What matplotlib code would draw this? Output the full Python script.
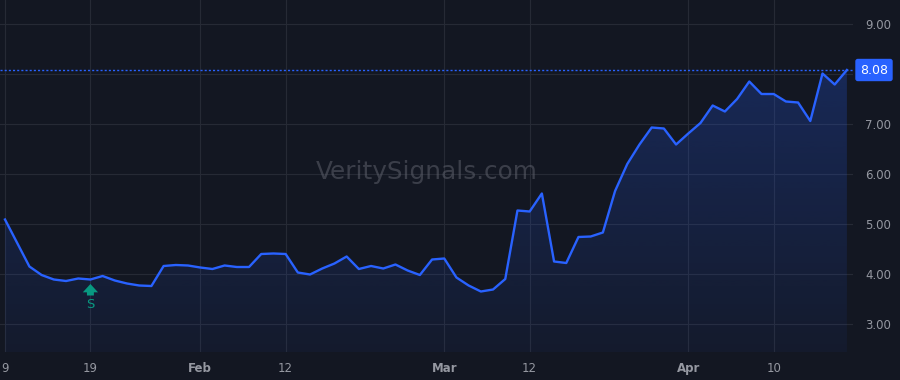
import matplotlib
matplotlib.use("Agg")
import matplotlib.pyplot as plt
import matplotlib.transforms as mtransforms
from matplotlib.path import Path
from matplotlib.patches import PathPatch
import numpy as np

# ---- data (trading days 2024-01-09 .. 2024-04-18) ----
values = [5.09, 4.62, 4.15, 3.98, 3.89, 3.86, 3.91, 3.89, 3.96, 3.87,
          3.81, 3.77, 3.76, 4.16, 4.18, 4.17, 4.13, 4.10, 4.17, 4.14,
          4.14, 4.40, 4.41, 4.40, 4.03, 3.99, 4.11, 4.21, 4.35, 4.10,
          4.16, 4.11, 4.19, 4.07, 3.98, 4.29, 4.31, 3.93, 3.77, 3.65,
          3.69, 3.90, 5.27, 5.25, 5.61, 4.25, 4.22, 4.74, 4.75, 4.83,
          5.66, 6.20, 6.59, 6.93, 6.91, 6.59, 6.81, 7.02, 7.37, 7.25,
          7.50, 7.85, 7.60, 7.60, 7.45, 7.43, 7.06, 8.01, 7.79, 8.08]
tick_index = [0, 7, 16, 23, 36, 43, 56, 63]
tick_labels = ["9", "19", "Feb", "12", "Mar", "12", "Apr", "10"]
month_labels = {"Feb", "Mar", "Apr"}
y_ticks = [3, 4, 5, 6, 7, 8, 9]
y_hidden = [8]  # covered by the last-price label
signal_index = 7
signal_label = "S"
last_label = "8.08"
watermark = "VeritySignals.com"

BG = "#131722"
GRID = "#262a35"
LINE = "#2962ff"
TXT = "#9598a1"
GREEN = "#089981"

x = np.arange(len(values))
y = np.array(values)

fig = plt.figure(figsize=(9, 3.8), dpi=100, facecolor=BG)
ax = fig.add_axes([0.0, 28 / 380, 853 / 900, 352 / 380], facecolor=BG)
ax.set_xlim(-0.41, 69.5)
ax.set_ylim(2.44, 9.48)

# grid
for v in y_ticks:
    ax.axhline(v, color=GRID, lw=0.8, zorder=0)
for t in tick_index:
    ax.axvline(t, color=GRID, lw=0.8, zorder=0)

# gradient fill under line
verts = [(x[0], 2.44)] + list(zip(x, y)) + [(x[-1], 2.44)]
poly = PathPatch(Path(verts), facecolor="none", edgecolor="none")
ax.add_patch(poly)
grad = np.linspace(0.05, 0.24, 256).reshape(-1, 1)
rgba = np.zeros((256, 1, 4))
rgba[..., 0] = 41 / 255
rgba[..., 1] = 98 / 255
rgba[..., 2] = 255 / 255
rgba[..., 3] = grad
im = ax.imshow(rgba, extent=[x[0], x[-1], 2.44, y.max()], origin="lower",
               aspect="auto", zorder=1, interpolation="bilinear")
im.set_clip_path(poly)

ax.plot(x, y, color=LINE, lw=1.7, zorder=3, solid_joinstyle="round")

# last price dotted line + label
ax.axhline(y[-1], color=LINE, lw=1.0, ls=(0, (1.5, 1.5)), zorder=2)
trans = mtransforms.blended_transform_factory(ax.transAxes, ax.transData)
ax.text(1.0 + 21 / 853, y[-1], last_label, transform=trans, ha="center", va="center",
        color="white", fontsize=9, zorder=5, clip_on=False,
        bbox=dict(boxstyle="round,pad=0.32,rounding_size=0.15", fc=LINE, ec=LINE))

# signal marker
ax.annotate("", xy=(signal_index, y[signal_index] - 0.09),
            xytext=(signal_index, y[signal_index] - 0.32),
            arrowprops=dict(arrowstyle="simple,head_width=1.1,head_length=0.6,tail_width=0.5",
                            color=GREEN, lw=0, shrinkA=0, shrinkB=0, mutation_scale=10),
            zorder=4)
ax.text(signal_index, y[signal_index] - 0.5, signal_label, color=GREEN, fontsize=9.5,
        ha="center", va="center", zorder=4)

# watermark
ax.text(0.5, 0.51, watermark, transform=ax.transAxes, ha="center", va="center",
        fontsize=17.8, color="#5d606b", alpha=0.55, zorder=2)

# axes styling
for s in ax.spines.values():
    s.set_visible(False)
ax.yaxis.tick_right()
ax.set_yticks(y_ticks)
ax.set_yticklabels(["" if v in y_hidden else f"{v:.2f}" for v in y_ticks])
ax.tick_params(axis="y", length=0, pad=9, labelsize=8.5, labelcolor=TXT)
ax.set_xticks(tick_index)
ax.set_xticklabels(tick_labels)
ax.tick_params(axis="x", length=0, pad=7, labelsize=8.5, labelcolor=TXT)
for lbl in ax.get_xticklabels():
    if lbl.get_text() in month_labels:
        lbl.set_fontweight("bold")

fig.savefig("out.png", dpi=100, facecolor=BG)
